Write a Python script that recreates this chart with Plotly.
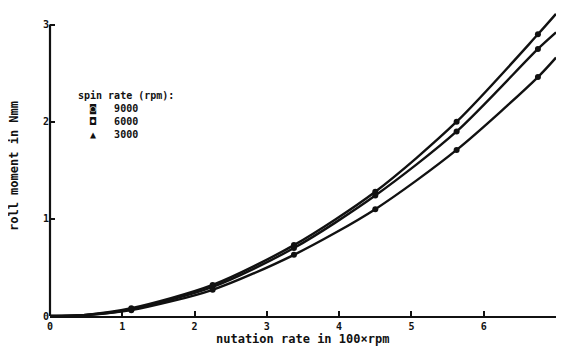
import plotly.graph_objects as go

# ---- data ----
nutation_rate = [1.125, 2.25, 3.375, 4.5, 5.625, 6.75]      # 100 x rpm
moment_9000 = [0.08, 0.32, 0.73, 1.28, 2.00, 2.90]           # Nmm
moment_6000 = [0.07, 0.30, 0.70, 1.24, 1.90, 2.75]
moment_3000 = [0.06, 0.27, 0.63, 1.10, 1.71, 2.46]

curve_x = [0.0, 0.5, 1.125, 2.25, 3.375, 4.5, 5.625, 6.75, 7.0]
curve_9000 = [0.0, 0.012, 0.08, 0.32, 0.73, 1.28, 2.00, 2.90, 3.11]
curve_6000 = [0.0, 0.011, 0.07, 0.30, 0.70, 1.24, 1.90, 2.75, 2.92]
curve_3000 = [0.0, 0.010, 0.06, 0.27, 0.63, 1.10, 1.71, 2.46, 2.66]

spin_rates = ["9000", "6000", "3000"]
legend_symbols = ["\u25D9", "\u25D8", "\u25B2"]
legend_title = "spin rate (rpm):"
x_ticks = [0, 1, 2, 3, 4, 5, 6, 7]
y_ticks = [0, 1, 2, 3]

FONT = "DejaVu Sans Mono"
INK = "#111111"

fig = go.Figure()
curves = [curve_9000, curve_6000, curve_3000]
points = [moment_9000, moment_6000, moment_3000]
for name, cy, py in zip(spin_rates, curves, points):
    fig.add_trace(go.Scatter(x=curve_x, y=cy, mode="lines", name=name,
                             line=dict(color=INK, width=2.4, shape="spline", smoothing=0.8),
                             showlegend=False, hoverinfo="skip"))
    fig.add_trace(go.Scatter(x=nutation_rate, y=py, mode="markers", name=name,
                             marker=dict(color=INK, size=6, symbol="circle"),
                             showlegend=False))

# y-axis line only up to 3
fig.add_shape(type="line", xref="paper", yref="y", x0=0, x1=0, y0=0, y1=3,
              line=dict(color=INK, width=2.2))

# page body has an 8px margin; visible width is the body width
OFF = 8
W, H = 564 - 2 * OFF, 356 - 2 * OFF
L, R, T = 50 - OFF, 0, 11 - OFF
B = H - (316 - OFF)
pw, ph = W - L - R, H - T - B

def px(xp):
    return (xp - OFF - L) / pw

def py_(yp):
    return 1 - (yp - OFF - T) / ph

legend_lines = [legend_title] + [f"  {s}   {lab}" for s, lab in zip(legend_symbols, spin_rates)]
legend_text = "<br>".join(f"<b>{t}</b>" for t in legend_lines)

ann_list = [
    dict(text=legend_text, x=px(76), y=py_(88), xref="paper", yref="paper",
         xanchor="left", yanchor="top", align="left", showarrow=False,
         font=dict(family=FONT, size=10, color=INK)),
    dict(text="<b>nutation rate in 100\u00d7rpm</b>", x=px(302), y=py_(339),
         xref="paper", yref="paper", xanchor="center", yanchor="middle",
         showarrow=False, font=dict(family=FONT, size=12, color=INK)),
    dict(text="<b>roll moment in Nmm</b>", x=px(14), y=py_(166),
         xref="paper", yref="paper", xanchor="center", yanchor="middle",
         showarrow=False, textangle=-90, font=dict(family=FONT, size=12, color=INK)),
]

fig.update_layout(
    width=W, height=H,
    margin=dict(l=L, r=R, t=T, b=B, autoexpand=False),
    paper_bgcolor="white", plot_bgcolor="white",
    showlegend=False,
    annotations=ann_list,
    font=dict(family=FONT, color=INK),
)
fig.update_xaxes(range=[0, 7], tickvals=x_ticks, ticktext=[f"<b>{v}</b>" for v in x_ticks],
                 showgrid=False, zeroline=False, showline=True, linecolor=INK, linewidth=2.2,
                 ticks="inside", ticklen=5, tickwidth=2, tickcolor=INK, automargin=False,
                 tickfont=dict(family=FONT, size=10, color=INK))
fig.update_yaxes(range=[0, 3.14], tickvals=y_ticks, ticktext=[f"<b>{v}</b>" for v in y_ticks],
                 showgrid=False, zeroline=False, showline=False, automargin=False,
                 ticks="inside", ticklen=5, tickwidth=2, tickcolor=INK,
                 tickfont=dict(family=FONT, size=10, color=INK))

fig.write_html("out.html")
